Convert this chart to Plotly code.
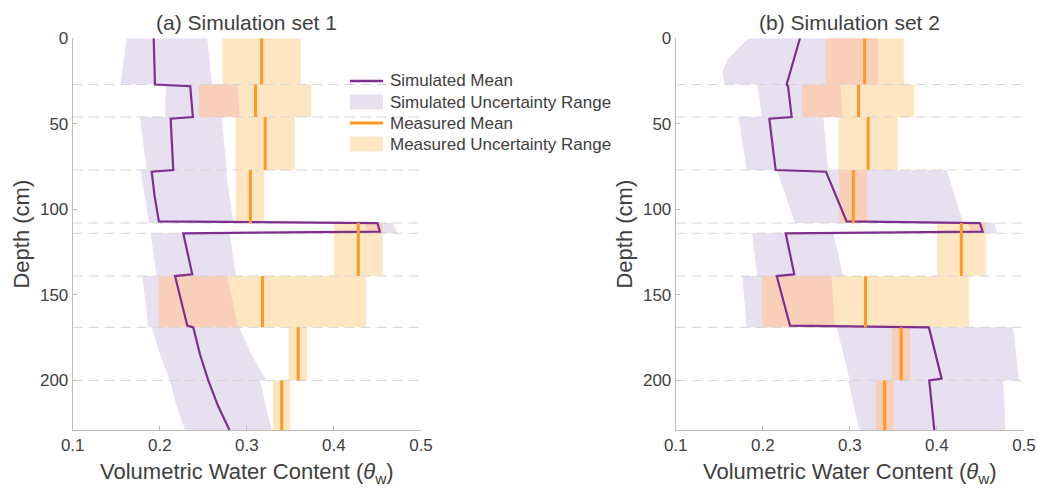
import numpy as np
import plotly.graph_objects as go

# ---------------- data ----------------
boundaries = [27, 46, 77, 108, 114, 139, 169, 200]

# measured (same in both panels)
meas_top = [0, 27, 46, 77, 108, 139, 169, 200]
meas_bot = [27, 46, 77, 108, 139, 169, 200, 229]
meas_mean = [0.317, 0.310, 0.321, 0.304, 0.428, 0.318, 0.359, 0.340]
meas_lo = [0.272, 0.245, 0.287, 0.2875, 0.400, 0.199, 0.348, 0.330]
meas_hi = [0.362, 0.374, 0.355, 0.320, 0.456, 0.437, 0.369, 0.350]

# simulation set 1
sim1_band_depth = [0, 27, 27, 46, 46, 77, 77, 108, 108, 114, 114, 139, 139, 169, 169, 185, 200, 200, 215, 229]
sim1_lo = [0.162, 0.155, 0.207, 0.206, 0.177, 0.185, 0.178, 0.1876, 0.435, 0.440, 0.1895, 0.1964,
           0.180, 0.1868, 0.1907, 0.2004, 0.2117, 0.2117, 0.2193, 0.229]
sim1_hi = [0.2545, 0.260, 0.289, 0.292, 0.271, 0.277, 0.276, 0.2844, 0.4677, 0.4735, 0.2806, 0.2875,
           0.2775, 0.290, 0.291, 0.3055, 0.3227, 0.315, 0.322, 0.3285]
sim1_mean_depth = [0, 27, 28, 46, 47, 77, 78, 92, 107, 108, 113, 114, 138, 139, 168, 169, 185, 200, 215, 229]
sim1_mean = [0.193, 0.1945, 0.235, 0.238, 0.2125, 0.2155, 0.1907, 0.194, 0.199, 0.450, 0.4528, 0.227,
             0.2373, 0.2175, 0.2316, 0.2385, 0.2463, 0.2557, 0.267, 0.280]

# simulation set 2
sim2_band_depth = [0, 12, 20, 27, 27, 46, 46, 77, 77, 108, 108, 114, 114, 139, 139, 169, 169, 200, 200, 229]
sim2_lo = [0.1834, 0.160, 0.1535, 0.1566, 0.1937, 0.1987, 0.172, 0.1815, 0.216, 0.237, 0.435, 0.440,
           0.1878, 0.1937, 0.1765, 0.1815, 0.2848, 0.300, 0.298, 0.3108]
sim2_hi = [0.332, 0.332, 0.332, 0.332, 0.289, 0.292, 0.2695, 0.2752, 0.4111, 0.4302, 0.466, 0.469,
           0.281, 0.2925, 0.279, 0.283, 0.4876, 0.494, 0.476, 0.4788]
sim2_mean_depth = [0, 27, 28, 46, 47, 77, 78, 107, 108, 113, 114, 138, 139, 168, 169, 199, 200, 229]
sim2_mean = [0.2427, 0.2274, 0.229, 0.2332, 0.2075, 0.2148, 0.2726, 0.2963, 0.4494, 0.4525, 0.2263,
             0.2362, 0.216, 0.2313, 0.3908, 0.4054, 0.3912, 0.397]

x_ticks = [0.1, 0.2, 0.3, 0.4, 0.5]
y_ticks = [0, 50, 100, 150, 200]
depth_max = 229

legend_labels = ["Simulated Mean", "Simulated Uncertainty Range",
                 "Measured Mean", "Measured Uncertainty Range"]
panel_titles = ["(a) Simulation set 1", "(b) Simulation set 2"]

# ---------------- styles ----------------
PURPLE = "#7e2f8e"
LAVENDER = "#e7e0f0"
ORANGE = "#ff9a1e"
PEACH = "#ffe6c3"
SALMON = "#f9cfba"
AXIS = "#bcbcbc"
TEXT = "#404040"
FONT = "Liberation Sans, Arial, sans-serif"


def meas_rects():
    xs, ys = [], []
    for t, b, lo, hi in zip(meas_top, meas_bot, meas_lo, meas_hi):
        xs += [lo, hi, hi, lo, lo, None]
        ys += [t, t, b, b, t, None]
    return xs, ys


def meas_lines():
    xs, ys = [], []
    for t, b, m in zip(meas_top, meas_bot, meas_mean):
        xs += [m, m, None]
        ys += [t, b, None]
    return xs, ys


def overlap(band_d, band_lo, band_hi):
    xs, ys = [], []
    for i in range(len(band_d) - 1):
        d0, d1 = band_d[i], band_d[i + 1]
        if d1 <= d0:
            continue
        for j in range(len(meas_top)):
            a, b = max(d0, meas_top[j]), min(d1, meas_bot[j])
            if b <= a:
                continue
            dd = np.linspace(a, b, 30)
            lo = np.interp(dd, [d0, d1], [band_lo[i], band_lo[i + 1]])
            hi = np.interp(dd, [d0, d1], [band_hi[i], band_hi[i + 1]])
            x1 = np.maximum(lo, meas_lo[j])
            x2 = np.minimum(hi, meas_hi[j])
            if np.all(x2 <= x1):
                continue
            x2 = np.maximum(x2, x1)
            xs += list(x1) + list(x2[::-1]) + [None]
            ys += list(dd) + list(dd[::-1]) + [None]
    return xs, ys


fig = go.Figure()

panels = [
    ("x", "y", sim1_band_depth, sim1_lo, sim1_hi, sim1_mean_depth, sim1_mean),
    ("x2", "y2", sim2_band_depth, sim2_lo, sim2_hi, sim2_mean_depth, sim2_mean),
]

for xa, ya, bd, blo, bhi, md, mv in panels:
    fig.add_trace(go.Scatter(
        x=list(blo) + list(bhi[::-1]), y=list(bd) + list(bd[::-1]),
        fill="toself", fillcolor=LAVENDER, mode="lines", line=dict(width=0, color=LAVENDER),
        name=legend_labels[1], showlegend=False, xaxis=xa, yaxis=ya, hoverinfo="skip"))
    rx, ry = meas_rects()
    fig.add_trace(go.Scatter(
        x=rx, y=ry, fill="toself", fillcolor=PEACH, mode="lines", line=dict(width=0, color=PEACH),
        name=legend_labels[3], showlegend=False, xaxis=xa, yaxis=ya, hoverinfo="skip"))
    ox, oy = overlap(bd, blo, bhi)
    fig.add_trace(go.Scatter(
        x=ox, y=oy, fill="toself", fillcolor=SALMON, mode="lines", line=dict(width=0, color=SALMON),
        showlegend=False, xaxis=xa, yaxis=ya, hoverinfo="skip"))
    dx, dy = [], []
    for b in boundaries:
        dx += [x_ticks[0], x_ticks[-1], None]
        dy += [b, b, None]
    fig.add_trace(go.Scatter(
        x=dx, y=dy, mode="lines", line=dict(color="#d4d4d4", width=1, dash="10px,6px"),
        showlegend=False, xaxis=xa, yaxis=ya, hoverinfo="skip"))
    fig.add_trace(go.Scatter(
        x=mv, y=md, mode="lines", line=dict(color=PURPLE, width=2.2),
        name=legend_labels[0], showlegend=False, xaxis=xa, yaxis=ya))
    lx, ly = meas_lines()
    fig.add_trace(go.Scatter(
        x=lx, y=ly, mode="lines", line=dict(color=ORANGE, width=3),
        name=legend_labels[2], showlegend=False, xaxis=xa, yaxis=ya))

W, H = 1037, 489
dom1 = [72.7 / W, 421 / W]
dom2 = [675.7 / W, 1024 / W]
ydom = [1 - 430 / H, 1 - 38.3 / H]

xaxis_common = dict(
    range=[x_ticks[0], x_ticks[-1]], tickvals=x_ticks, ticktext=[f"{v:.1f}" for v in x_ticks],
    showline=True, linecolor=AXIS, linewidth=1, ticks="inside", ticklen=4, tickcolor=AXIS,
    showgrid=False, zeroline=False, tickfont=dict(size=17, color=TEXT, family=FONT),
    automargin=False,
    title=dict(text="Volumetric Water Content (<i>θ</i><sub>w</sub>)",
               font=dict(size=22, color=TEXT, family=FONT), standoff=9),
)
yaxis_common = dict(
    range=[depth_max, 0], tickvals=y_ticks, showline=True, linecolor=AXIS, linewidth=1,
    ticks="inside", ticklen=4, tickcolor=AXIS, showgrid=False, zeroline=False,
    tickfont=dict(size=17, color=TEXT, family=FONT), domain=ydom, automargin=False,
    title=dict(text="Depth (cm)", font=dict(size=22, color=TEXT, family=FONT), standoff=4),
)

# manual legend (icons + labels)
shapes = []
annotations = []
leg_x0, leg_x1, leg_text_x = 350, 383, 388
leg_rows = [81, 102, 123, 144]
icons = [("line", PURPLE, 2.5), ("rect", LAVENDER, 0), ("line", ORANGE, 3), ("rect", PEACH, 0)]
for (kind, col, lw), yc, lab in zip(icons, leg_rows, legend_labels):
    yp = 1 - yc / H
    if kind == "line":
        shapes.append(dict(type="line", xref="paper", yref="paper", x0=leg_x0 / W, x1=leg_x1 / W,
                           y0=yp, y1=yp, line=dict(color=col, width=lw)))
    else:
        shapes.append(dict(type="rect", xref="paper", yref="paper", x0=leg_x0 / W, x1=leg_x1 / W,
                           y0=yp - 7.5 / H, y1=yp + 7.5 / H, fillcolor=col, line=dict(width=0)))
    annotations.append(dict(text=lab, x=leg_text_x / W, y=yp, xref="paper", yref="paper",
                            xanchor="left", yanchor="middle", showarrow=False,
                            font=dict(size=17, color=TEXT, family=FONT)))

for dom, ttl in zip([dom1, dom2], panel_titles):
    annotations.append(dict(text=ttl, x=sum(dom) / 2, y=1 - 23 / H, xref="paper", yref="paper",
                            xanchor="center", yanchor="middle", showarrow=False,
                            font=dict(size=21, color=TEXT, family=FONT)))

fig.update_layout(
    width=W, height=H, margin=dict(l=0, r=0, t=0, b=0, autoexpand=False),
    paper_bgcolor="white", plot_bgcolor="white",
    font=dict(family=FONT, color=TEXT),
    showlegend=False,
    xaxis=dict(domain=dom1, anchor="y", **xaxis_common),
    xaxis2=dict(domain=dom2, anchor="y2", **xaxis_common),
    yaxis=dict(anchor="x", **yaxis_common),
    yaxis2=dict(anchor="x2", **yaxis_common),
    shapes=shapes,
    annotations=annotations,
)

fig.write_html("out.html")
